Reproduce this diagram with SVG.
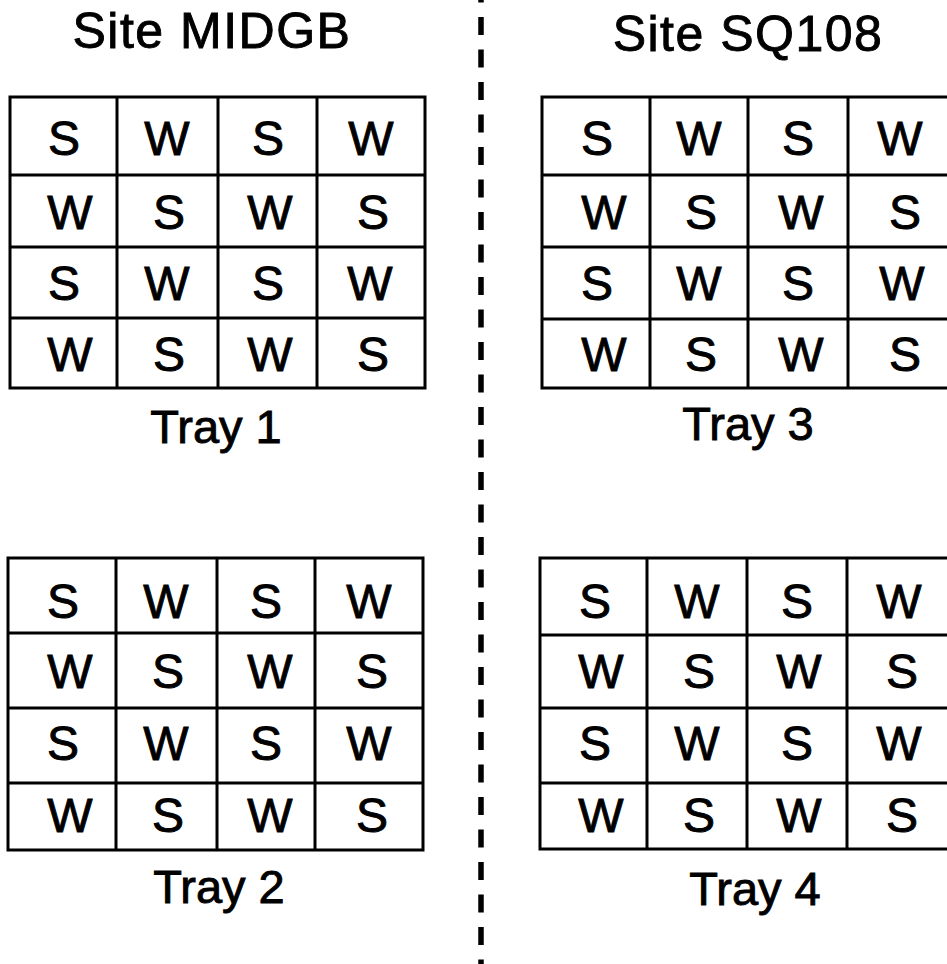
<svg xmlns="http://www.w3.org/2000/svg" width="947" height="964" viewBox="0 0 947 964">
<style>
.bg{fill:#ffffff}
.grid{fill:none;stroke:#000;stroke-width:3}
.cell{font-family:"Liberation Sans",Arial,sans-serif;font-size:48px;fill:#000;stroke:#000;stroke-width:0.9;text-anchor:middle}
.title{font-family:"Liberation Sans",Arial,sans-serif;font-size:50px;letter-spacing:1.5px;fill:#000;stroke:#000;stroke-width:0.9;text-anchor:middle}
.label{font-family:"Liberation Sans",Arial,sans-serif;font-size:47px;fill:#000;stroke:#000;stroke-width:0.9;text-anchor:middle}
.divider{fill:none;stroke:#000;stroke-width:5.5;stroke-dasharray:18 14.5;stroke-dashoffset:15.5}
</style>
<rect class="bg" x="0" y="0" width="947" height="964"/>
<g id="titles">
<text class="title" x="212" y="48">Site MIDGB</text>
<text class="title" x="748" y="51">Site SQ108</text>
</g>
<g id="divider">
<line class="divider" x1="481" y1="0" x2="481" y2="964"/>
</g>
<g id="tray1">
<path class="grid" d="M10,97H425V388H10Z M117,97V388 M218,97V388 M317,97V388 M10,175H425 M10,247H425 M10,318H425"/>
<text class="cell" x="64" y="155">S</text><text class="cell" x="167" y="155">W</text><text class="cell" x="268" y="155">S</text><text class="cell" x="371" y="155">W</text>
<text class="cell" x="70" y="229">W</text><text class="cell" x="169" y="229">S</text><text class="cell" x="270" y="229">W</text><text class="cell" x="373" y="229">S</text>
<text class="cell" x="64" y="300">S</text><text class="cell" x="167" y="300">W</text><text class="cell" x="268" y="300">S</text><text class="cell" x="370" y="300">W</text>
<text class="cell" x="70" y="371">W</text><text class="cell" x="169" y="371">S</text><text class="cell" x="270" y="371">W</text><text class="cell" x="373" y="371">S</text>
<text class="label" x="216" y="443">Tray 1</text>
</g>
<g id="tray3">
<path class="grid" d="M950,97H542V388H950 M650,97V388 M748,97V388 M848,97V388 M542,175H950 M542,247H950 M542,319H950"/>
<text class="cell" x="597" y="155">S</text><text class="cell" x="699" y="155">W</text><text class="cell" x="798" y="155">S</text><text class="cell" x="900" y="155">W</text>
<text class="cell" x="604" y="229">W</text><text class="cell" x="701" y="229">S</text><text class="cell" x="801" y="229">W</text><text class="cell" x="905" y="229">S</text>
<text class="cell" x="597" y="300">S</text><text class="cell" x="699" y="300">W</text><text class="cell" x="798" y="300">S</text><text class="cell" x="902" y="300">W</text>
<text class="cell" x="604" y="371">W</text><text class="cell" x="701" y="371">S</text><text class="cell" x="801" y="371">W</text><text class="cell" x="905" y="371">S</text>
<text class="label" x="748" y="440">Tray 3</text>
</g>
<g id="tray2">
<path class="grid" d="M8,558H423V850H8Z M116,558V850 M217,558V850 M315,558V850 M8,633H423 M8,708H423 M8,783H423"/>
<text class="cell" x="63" y="618">S</text><text class="cell" x="166" y="618">W</text><text class="cell" x="266" y="618">S</text><text class="cell" x="369" y="618">W</text>
<text class="cell" x="70" y="688">W</text><text class="cell" x="168" y="688">S</text><text class="cell" x="270" y="688">W</text><text class="cell" x="372" y="688">S</text>
<text class="cell" x="63" y="760">S</text><text class="cell" x="166" y="760">W</text><text class="cell" x="266" y="760">S</text><text class="cell" x="369" y="760">W</text>
<text class="cell" x="70" y="832">W</text><text class="cell" x="168" y="832">S</text><text class="cell" x="270" y="832">W</text><text class="cell" x="372" y="832">S</text>
<text class="label" x="219" y="903">Tray 2</text>
</g>
<g id="tray4">
<path class="grid" d="M950,558H540V849H950 M647,558V849 M747,558V849 M847,558V849 M540,635H950 M540,708H950 M540,783H950"/>
<text class="cell" x="595" y="618">S</text><text class="cell" x="697" y="618">W</text><text class="cell" x="797" y="618">S</text><text class="cell" x="899" y="618">W</text>
<text class="cell" x="601" y="688">W</text><text class="cell" x="699" y="688">S</text><text class="cell" x="799" y="688">W</text><text class="cell" x="902" y="688">S</text>
<text class="cell" x="595" y="760">S</text><text class="cell" x="697" y="760">W</text><text class="cell" x="797" y="760">S</text><text class="cell" x="899" y="760">W</text>
<text class="cell" x="601" y="832">W</text><text class="cell" x="699" y="832">S</text><text class="cell" x="799" y="832">W</text><text class="cell" x="902" y="832">S</text>
<text class="label" x="755" y="905">Tray 4</text>
</g>
</svg>
